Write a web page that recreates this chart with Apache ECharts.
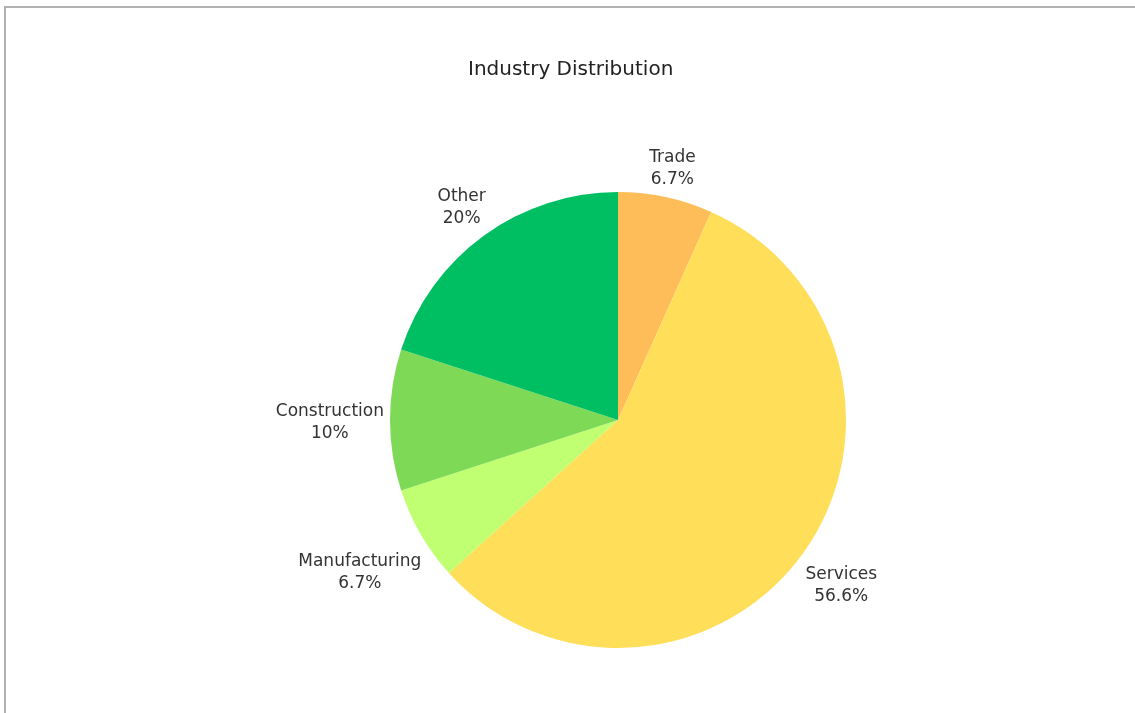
<!DOCTYPE html>
<html>
<head>
<meta charset="utf-8">
<title>Industry Distribution</title>
<script src="https://cdn.jsdelivr.net/npm/echarts@6/dist/echarts.min.js"></script>
<style>
  html, body { margin: 0; padding: 0; background: #ffffff; }
  #chart { width: 1135px; height: 713px; }
</style>
</head>
<body>
<div id="chart"></div>
<script>
// Industry shares (percent), clockwise from 12 o'clock
const industries = ['Trade', 'Services', 'Manufacturing', 'Construction', 'Other'];
const shares = [6.7, 56.6, 6.7, 10, 20];
const sliceColors = ['#FFBD59', '#FFDE59', '#C1FF72', '#7ED957', '#00BF63'];

const PIE_CENTER = [618, 420];
const PIE_RADIUS = 228;
const LABEL_GAP = 6;   // space between the pie rim and the label box
const LABEL_DY = 3;    // small downward nudge of the text block

const chart = echarts.init(document.getElementById('chart'), null, { renderer: 'canvas' });

const fontFamily = '"DejaVu Sans", "Noto Sans", sans-serif';

chart.setOption({
  backgroundColor: '#ffffff',
  animation: false,
  title: {
    text: 'Industry Distribution',
    left: 463,
    top: 55,
    textStyle: { fontFamily, fontSize: 20, fontWeight: 'normal', color: '#222222' }
  },
  graphic: [{
    type: 'rect',
    silent: true,
    shape: { x: 5, y: 7, width: 2000, height: 2000 },
    style: { fill: 'none', stroke: '#b2b2b2', lineWidth: 2 }
  }],
  series: [{
    type: 'pie',
    center: PIE_CENTER,
    radius: PIE_RADIUS,
    startAngle: 90,
    clockwise: true,
    avoidLabelOverlap: false,
    data: industries.map((name, i) => ({
      name,
      value: shares[i],
      itemStyle: { color: sliceColors[i] }
    })),
    itemStyle: { borderWidth: 0 },
    emphasis: { disabled: true },
    label: {
      show: true,
      position: 'outside',
      formatter: '{b}\n{c}%',
      fontFamily,
      fontSize: 17,
      lineHeight: 22,
      color: '#333333'
    },
    labelLine: {
      show: true,
      length: 10,
      length2: 0,
      lineStyle: { opacity: 0 }
    },
    // Centre each label on the slice's mid-angle ray, just outside the rim
    labelLayout: function (params) {
      const pts = params.labelLinePoints;
      if (!pts || pts.length < 2) return { align: 'center', verticalAlign: 'middle' };
      const p0 = pts[0];
      let ux = p0[0] - PIE_CENTER[0];
      let uy = p0[1] - PIE_CENTER[1];
      const len = Math.sqrt(ux * ux + uy * uy) || 1;
      ux /= len; uy /= len;
      const w = params.labelRect.width;
      const h = params.labelRect.height;
      const half = Math.abs(ux) * w / 2 + Math.abs(uy) * h / 2;
      const d = PIE_RADIUS + LABEL_GAP + half;
      return {
        x: PIE_CENTER[0] + ux * d,
        y: PIE_CENTER[1] + uy * d + LABEL_DY,
        align: 'center',
        verticalAlign: 'middle'
      };
    }
  }]
});
</script>
</body>
</html>
